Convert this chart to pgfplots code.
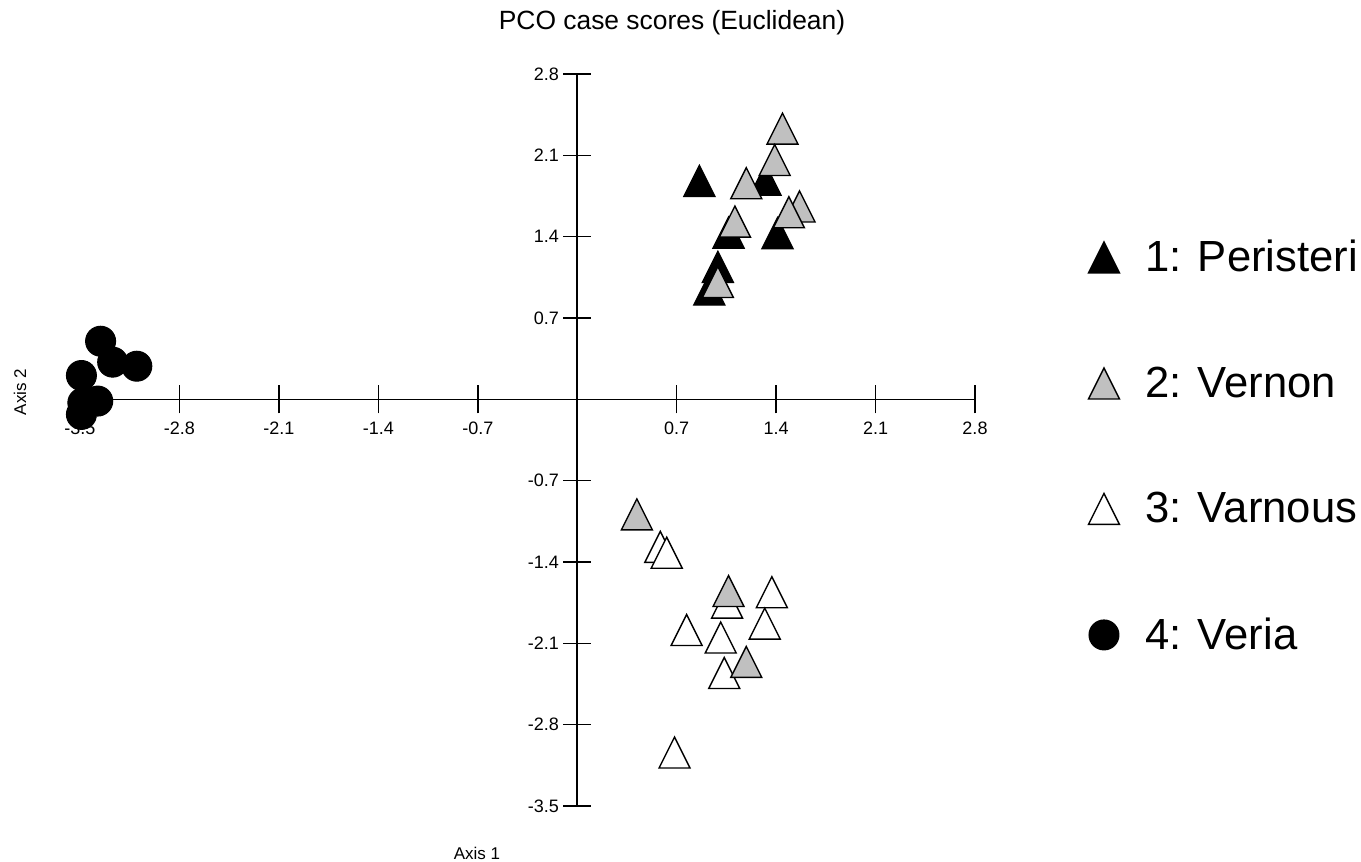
\documentclass[border=0pt]{standalone}
\usepackage{fontspec}
\setmainfont{Liberation Sans}
\usepackage{pgfplots}
\pgfplotsset{compat=1.18}
\pgfdeclareplotmark{tri}{%
  \pgfpathmoveto{\pgfqpoint{0pt}{\pgfplotmarksize}}%
  \pgfpathlineto{\pgfqpoint{\pgfplotmarksize}{-\pgfplotmarksize}}%
  \pgfpathlineto{\pgfqpoint{-\pgfplotmarksize}{-\pgfplotmarksize}}%
  \pgfpathclose
  \pgfusepathqfillstroke}
\definecolor{vgray}{RGB}{192,192,192}
\pgfplotsset{
  trimark/.style={only marks, mark=tri, mark size=7.75pt,
    mark options={line width=0.7pt, draw=black, fill=#1}},
}
\begin{document}
\begin{tikzpicture}
\begin{axis}[
  at={(40pt,28pt)}, anchor=south west,
  scale only axis, width=447.5pt, height=366pt,
  xmin=-3.5, xmax=2.8, ymin=-3.5, ymax=2.8,
  axis lines=middle, axis line style={-, line width=0.8pt},
  clip=false,
  xtick={-3.5,-2.8,-2.1,-1.4,-0.7,0.7,1.4,2.1,2.8},
  xticklabels={-3.5,-2.8,-2.1,-1.4,-0.7,0.7,1.4,2.1,2.8},
  ytick={-3.5,-2.8,-2.1,-1.4,-0.7,0.7,1.4,2.1,2.8},
  yticklabels={-3.5,-2.8,-2.1,-1.4,-0.7,0.7,1.4,2.1,2.8},
  minor tick num=0,
  tick align=center, major tick length=14pt,
  tick style={black, line width=0.8pt},
  ticklabel style={font=\fontsize{9}{10}\selectfont, inner sep=0pt},
  xticklabel style={yshift=-4pt},
  yticklabel style={xshift=-2pt},
  legend style={at={(axis description cs:1.1268,0.773)}, anchor=north west,
    draw=none, fill=none, inner sep=0pt, outer sep=0pt,
    font=\fontsize{21.8}{26}\selectfont, row sep=46pt, column sep=13pt,
    nodes={inner sep=0pt}},
  legend cell align=left,
]
\addplot[trimark=black] coordinates {
 (0.86,1.88) (1.325,1.89) (1.41,1.43) (1.065,1.435) (0.99,1.14) (0.93,0.945)
};
\addlegendentry{1: Peristeri}
\addplot[trimark=vgray] coordinates {
 (1.445,2.33) (1.39,2.06) (1.19,1.86) (1.565,1.66) (1.49,1.61) (1.11,1.53) (0.99,1.01)
};
\addlegendentry{2: Vernon}
\addplot[trimark=white] coordinates {
 (0.585,-1.27) (0.63,-1.32) (1.055,-1.75) (1.37,-1.66) (1.32,-1.93)
 (0.77,-1.985) (1.01,-2.05) (1.035,-2.355) (0.685,-3.04)
};
\addlegendentry{3: Varnous}
\addplot[only marks, mark=*, mark size=7.5pt, mark options={draw=black, fill=black, line width=0.5pt}] coordinates {
 (-3.355,0.50) (-3.27,0.32) (-3.10,0.285) (-3.49,0.205) (-3.375,-0.015) (-3.48,-0.03) (-3.49,-0.13)
};
\addlegendentry{4: Veria}
\addplot[trimark=vgray, forget plot] coordinates {
 (0.42,-0.99) (1.065,-1.65) (1.19,-2.26)
};
\end{axis}
\node[font=\fontsize{13.2}{15}\selectfont] at (336pt,419.5pt) {PCO case scores (Euclidean)};
\node[font=\fontsize{8.5}{10}\selectfont] at (238.5pt,4.5pt) {Axis 1};
\node[font=\fontsize{8.5}{10}\selectfont, rotate=90] at (10pt,235pt) {Axis 2};
\pgfresetboundingbox
\path[use as bounding box] (0pt,0pt) rectangle (680.5pt,431pt);
\end{tikzpicture}
\end{document}
